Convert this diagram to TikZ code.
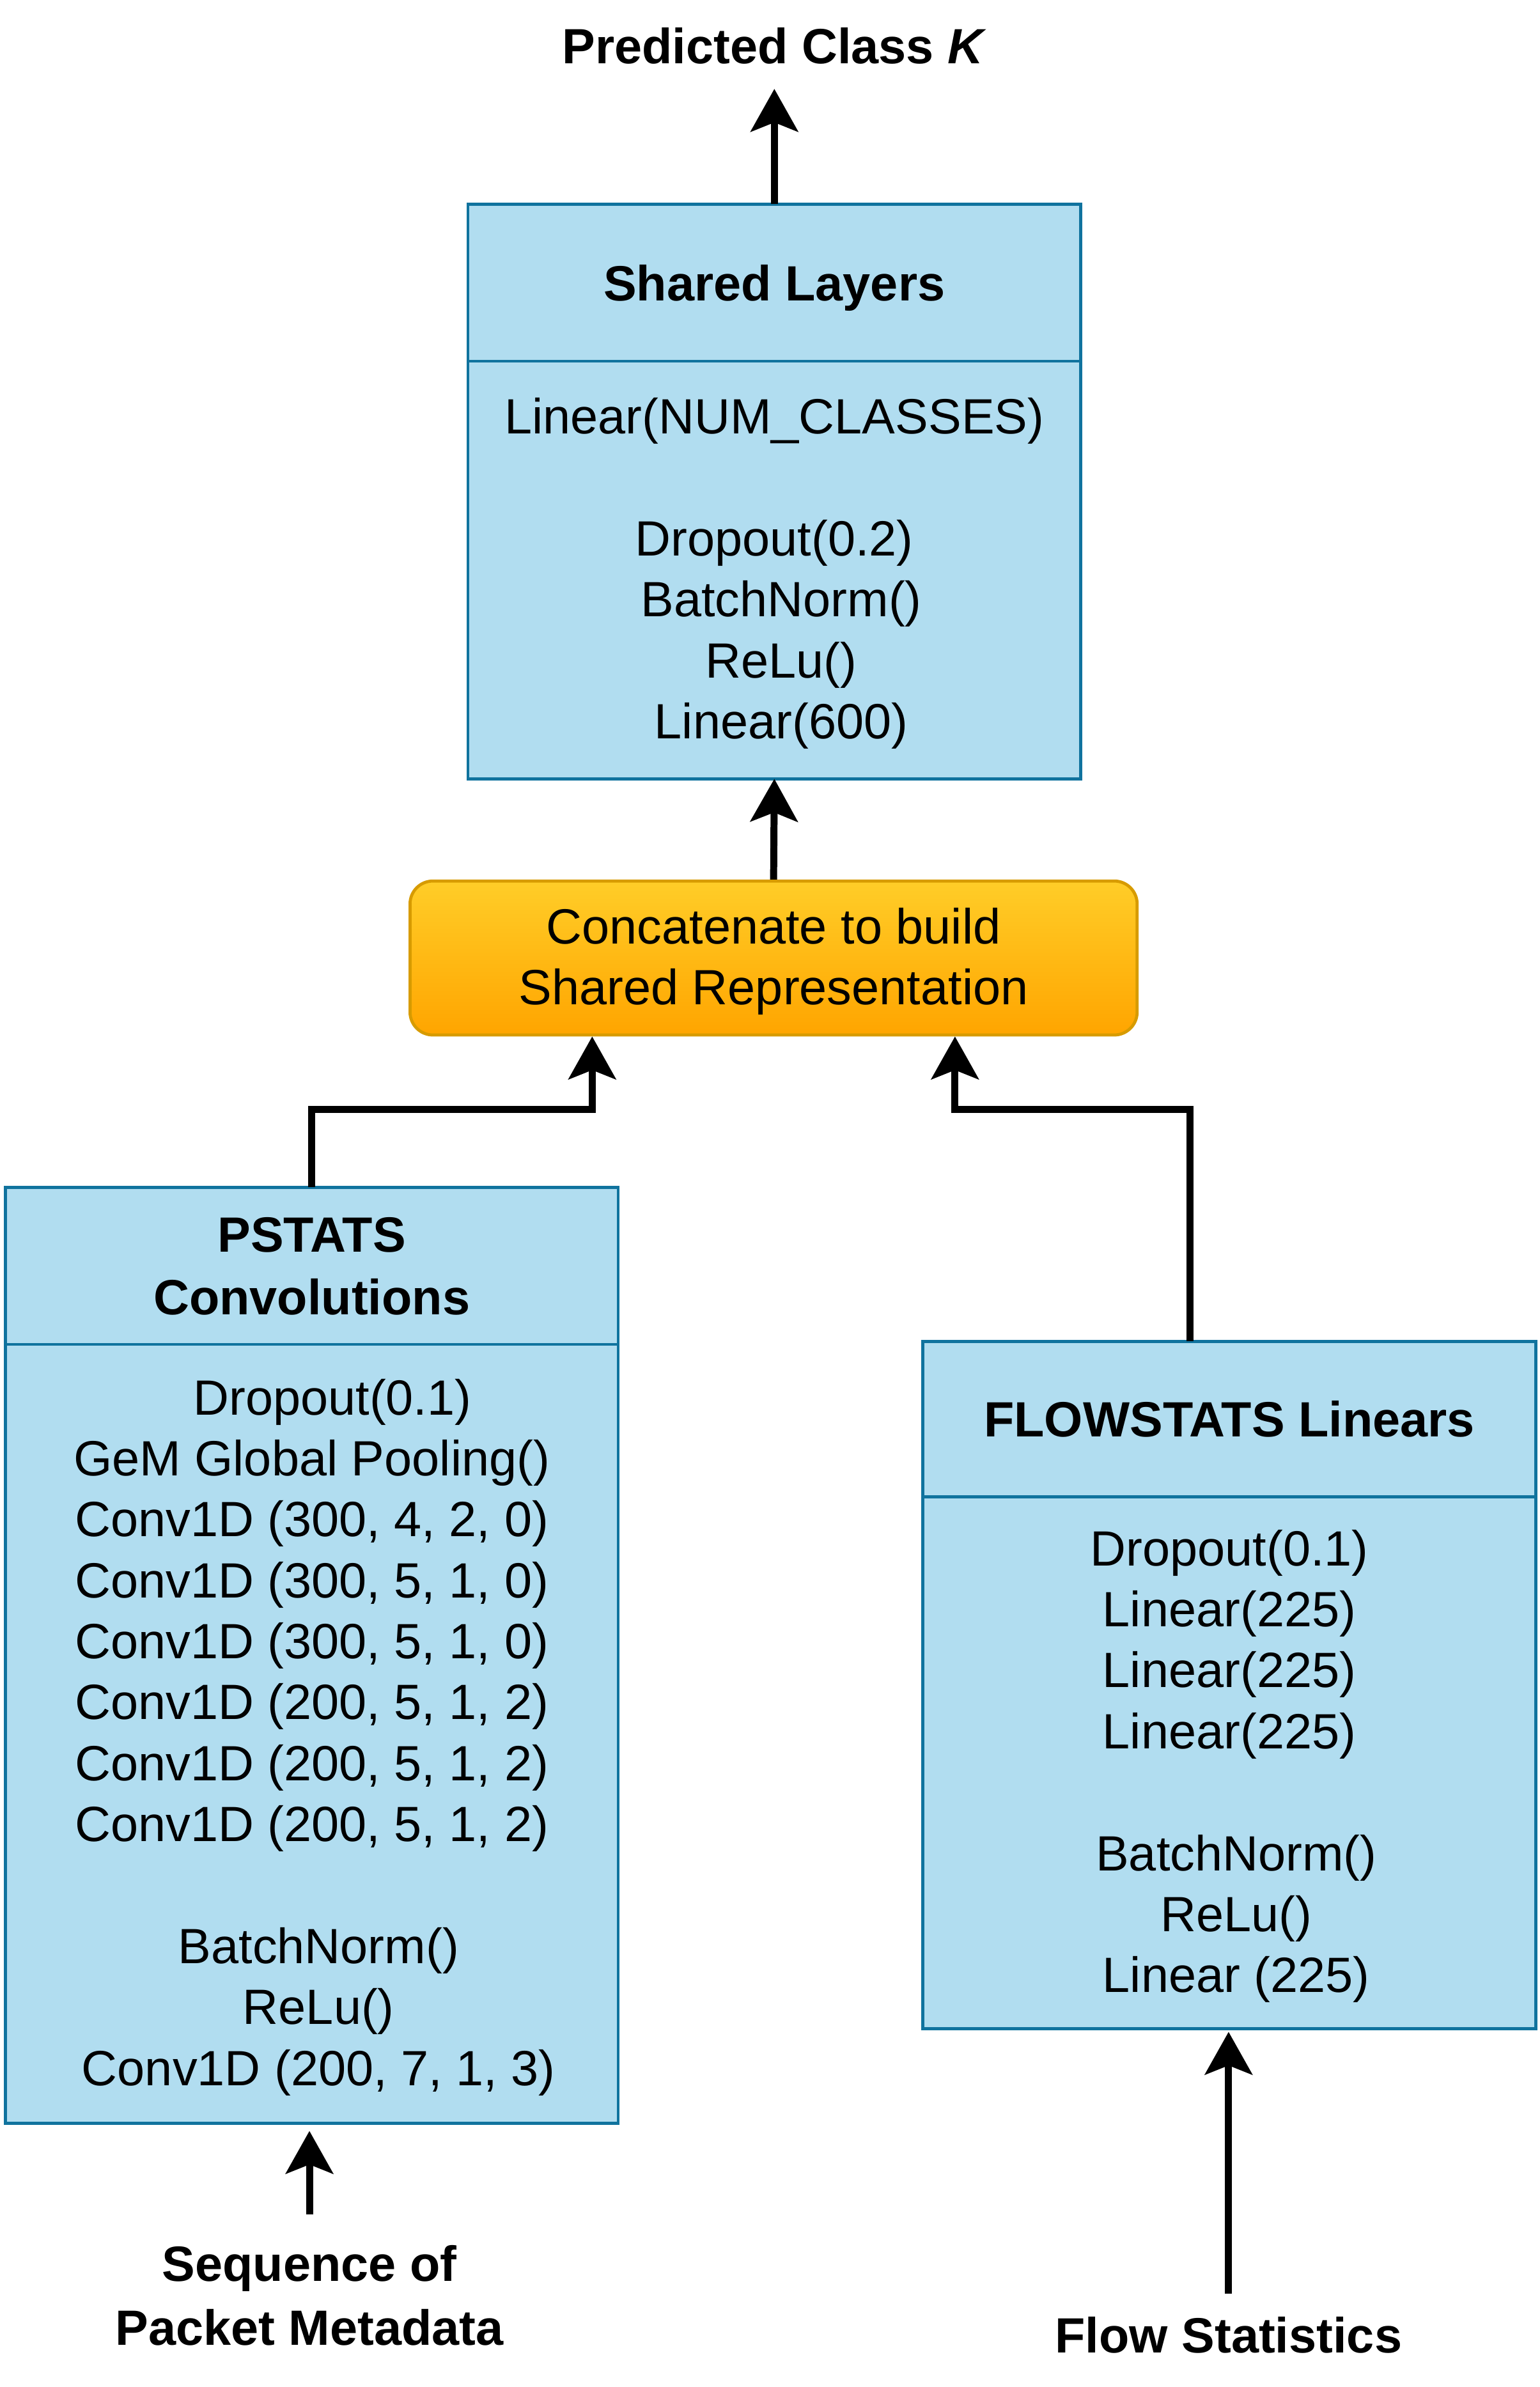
\documentclass[tikz,border=0pt]{standalone}
\usepackage{fontspec}
\setmainfont{Liberation Sans}
\usetikzlibrary{positioning,arrows.meta}

\definecolor{layerfill}{HTML}{B1DDF0}
\definecolor{layerdraw}{HTML}{10739E}
\definecolor{concattop}{HTML}{FFCD28}
\definecolor{concatbot}{HTML}{FFA500}
\definecolor{concatdraw}{HTML}{D79B00}

\newcommand{\topgap}{\rule{0pt}{14pt}}

\begin{document}
\begin{tikzpicture}[x=0.5pt,y=-0.5pt,node distance=0pt,font=\fontsize{16.25}{20}\selectfont]

\tikzstyle{head}=[rectangle,draw=layerdraw,fill=layerfill,line width=1pt,minimum width=201pt,
	outer sep=0pt,align=center,text depth=0pt,font=\fontsize{16.25}{20.5}\selectfont\bfseries]
\tikzstyle{body}=[rectangle,draw=layerdraw,fill=layerfill,line width=1pt,minimum width=201pt,
	outer sep=0pt,align=center]
\tikzstyle{merge}=[rectangle,rounded corners=7.5pt,draw=concatdraw,line width=1pt,
	top color=concattop,bottom color=concatbot,minimum width=238.5pt,minimum height=50.5pt,align=center]
\tikzstyle{io}=[align=center,inner xsep=0pt,font=\fontsize{16.25}{21}\selectfont\bfseries]
\tikzstyle{edge}=[-{Stealth[length=14pt,width=15.5pt,inset=3pt]},line width=2.3pt]

\useasboundingbox (0,0) rectangle (1010,1566);

\node[head,minimum height=51.5pt](sharedhead) at (508,185.5){Shared Layers};
\node[body,minimum height=137pt](sharedbody)[below=of sharedhead]{\topgap Linear(NUM\_CLASSES)\\[20pt]
	Dropout(0.2)\\\ BatchNorm()\\\ ReLu()\\\ Linear(600)};

\node[merge](concat) at (507.5,628.5){\topgap Concatenate to build\\Shared Representation};

\node[head,minimum height=51.5pt](pstatshead) at (204.5,830.5){PSTATS\\Convolutions};
\node[body,minimum height=255.5pt](pstatsbody)[below=of pstatshead]{\topgap\ \ \ Dropout(0.1)\\
	GeM Global Pooling()\\Conv1D (300, 4, 2, 0)\\Conv1D (300, 5, 1, 0)\\Conv1D (300, 5, 1, 0)\\
	Conv1D (200, 5, 1, 2)\\Conv1D (200, 5, 1, 2)\\Conv1D (200, 5, 1, 2)\\[20pt]
	\ BatchNorm()\\\ ReLu()\\\ Conv1D (200, 7, 1, 3)};

\node[head,minimum height=51pt](flowhead) at (806.5,931){FLOWSTATS Linears};
\node[body,minimum height=174.5pt](flowbody)[below=of flowhead]{\topgap Dropout(0.1)\\
	Linear(225)\\Linear(225)\\Linear(225)\\[20pt]\ BatchNorm()\\\ ReLu()\\\ Linear (225)};

\node[io,inner ysep=8pt](predicted) at (508,30){Predicted Class \textit{K}};
\node[io,inner ysep=10pt](seqlbl) at (203,1506){Sequence of\\Packet Metadata};
\node[io,inner ysep=7.5pt](flowlbl) at (806,1532){Flow Statistics};

\draw[edge](sharedhead)--(predicted);
\draw[edge](concat.north)--(sharedbody.south);
\draw[edge](pstatshead.north)--++(0,-51)-|([xshift=-59.5pt]concat.south);
\draw[edge]([xshift=-13pt]flowhead.north)--++(0,-152)-|([xshift=59.5pt]concat.south);
\draw[edge,shorten >=2.5pt](seqlbl.north)--(seqlbl.north|-pstatsbody.south);
\draw[edge,shorten >=1pt](flowlbl.north)--(flowlbl.north|-flowbody.south);

\end{tikzpicture}
\end{document}
